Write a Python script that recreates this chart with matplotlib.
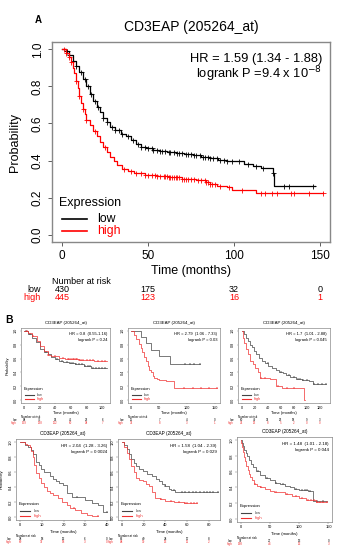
import numpy as np
import matplotlib.pyplot as plt
import matplotlib.transforms as mtransforms
from matplotlib.lines import Line2D

plt.rcParams['font.family'] = ['Liberation Sans', 'DejaVu Sans']

W, H = 340, 550   # figure size in pixels
GENE = 'CD3EAP (205264_at)'

# ---------------- PANEL A (all patients) ----------------
a_low_t = [0, 2, 4, 6, 8, 10, 12, 14, 16, 18, 20, 22, 24, 26, 28, 31, 34, 37, 40, 43, 46, 49,
           53, 57, 61, 66, 71, 76, 81, 86, 91, 96, 101, 106, 111, 116, 122.5, 123.5, 147]
a_low_s = [1.0, 0.99, 0.97, 0.94, 0.91, 0.88, 0.84, 0.80, 0.76, 0.72, 0.69, 0.66, 0.63, 0.61, 0.58,
           0.565, 0.545, 0.53, 0.51, 0.49, 0.475, 0.465, 0.455, 0.45, 0.445, 0.44, 0.435, 0.43, 0.42,
           0.415, 0.405, 0.40, 0.395, 0.38, 0.37, 0.36, 0.335, 0.265, 0.265]
a_low_c = [2, 3, 4, 6, 8, 11, 13, 15, 17, 19, 21, 24, 26, 29, 31, 33, 35, 38, 41, 44, 46, 48, 50,
           52, 53, 55, 57, 58, 60, 62, 63, 65, 67, 68, 70, 72, 73, 75, 77, 78, 80, 82, 83, 85, 86, 88,
           90, 92, 94, 96, 99, 103, 108, 113, 117, 123, 129, 132, 146]
a_high_t = [0, 2, 4, 5, 6, 7, 8, 9, 10, 11, 12, 13, 14, 16, 18, 20, 22, 24, 26, 28, 30, 32, 35,
            38, 42, 48, 55, 62, 70, 78, 84, 86, 90, 96, 99, 113, 152]
a_high_s = [1.0, 0.98, 0.96, 0.93, 0.90, 0.87, 0.83, 0.79, 0.75, 0.71, 0.68, 0.65, 0.62, 0.59, 0.56,
            0.53, 0.50, 0.475, 0.445, 0.42, 0.395, 0.375, 0.355, 0.345, 0.33, 0.32, 0.315, 0.31,
            0.30, 0.295, 0.285, 0.275, 0.265, 0.255, 0.24, 0.222, 0.222]
a_high_c = [1, 2, 4, 5, 8, 10, 12, 14, 19, 25, 36, 40, 43, 46, 48, 50, 52, 54, 55, 57, 59, 60, 61,
            62, 63, 64, 65, 66, 67, 68, 70, 71, 72, 73, 75, 77, 79, 81, 83, 84, 85, 86, 87, 89, 92,
            97, 105, 116, 118, 122, 125, 133, 135, 144, 152]
a_risk_t = [0, 50, 100, 150]
a_risk_low = [430, 175, 32, 0]
a_risk_high = [445, 123, 16, 1]

# ---------------- PANEL B (subgroups) ----------------
b1_low_t = [0, 5, 10, 15, 20, 25, 30, 35, 40, 45, 50, 57, 65, 77, 86, 106]
b1_low_s = [1.0, 0.96, 0.90, 0.84, 0.74, 0.69, 0.66, 0.62, 0.59, 0.56, 0.545, 0.53, 0.515, 0.50, 0.465, 0.465]
b1_low_c = [3, 8, 28, 42, 48, 55, 60, 63, 66, 70, 74, 78, 82, 85, 88, 92, 96, 100, 104]
b1_high_t = [0, 5, 10, 16, 20, 25, 30, 35, 45, 52, 59, 70, 78, 90, 106]
b1_high_s = [1.0, 0.97, 0.92, 0.85, 0.78, 0.71, 0.65, 0.63, 0.61, 0.60, 0.59, 0.58, 0.575, 0.565, 0.565]
b1_high_c = [4, 12, 30, 40, 50, 56, 58, 60, 62, 64, 66, 68, 70, 73, 76, 80, 84, 88, 94, 100, 104]
b1_risk_t = [0, 20, 40, 60, 80, 100]
b1_risk_low = [88, 75, 54, 45, 23, 6]
b1_risk_high = [159, 138, 112, 80, 38, 7]

b2_low_t = [0, 18, 27, 36, 50, 70, 123]
b2_low_s = [1.0, 0.91, 0.82, 0.73, 0.64, 0.52, 0.52]
b2_low_c = [96, 105, 112, 123]
b2_high_t = [0, 5, 9, 13, 17, 20, 23, 26, 29, 32, 35, 38, 41, 46, 50, 62, 76, 153]
b2_high_s = [1.0, 0.94, 0.875, 0.81, 0.75, 0.69, 0.625, 0.56, 0.50, 0.44, 0.40, 0.35, 0.32, 0.30,
             0.285, 0.27, 0.18, 0.18]
b2_high_c = [95, 110, 125, 140, 153]
b2_risk_t = [0, 50, 100, 150]
b2_risk_low = [11, 7, 4, 0]
b2_risk_high = [32, 8, 3, 1]

b3_low_t = [0, 3, 6, 9, 12, 15, 18, 22, 26, 31, 36, 41, 47, 52, 58, 64, 68, 75, 83.5, 93, 104, 109.5, 130]
b3_low_s = [1.0, 0.95, 0.90, 0.85, 0.80, 0.76, 0.71, 0.66, 0.61, 0.565, 0.535, 0.50, 0.47, 0.44,
            0.41, 0.39, 0.37, 0.33, 0.30, 0.285, 0.275, 0.23, 0.23]
b3_low_c = [40, 60, 72, 80, 86, 90, 95, 100, 112, 118, 124, 130]
b3_high_t = [0, 2, 4, 6, 9, 13, 17, 21, 25, 28.7, 44, 52, 62.6, 96.5, 97]
b3_high_s = [1.0, 0.90, 0.82, 0.74, 0.66, 0.565, 0.52, 0.47, 0.40, 0.32, 0.31, 0.20, 0.18, 0.0, 0.0]
b3_high_c = [30, 35, 56, 70, 80]
b3_risk_t = [0, 20, 40, 60, 80, 100, 120]
b3_risk_low = [80, 49, 33, 25, 18, 9, 3]
b3_risk_high = [34, 13, 8, 5, 2, 0, 0]

b4_low_t = [0, 2, 3.6, 5, 5.9, 7.4, 8.5, 9.8, 11, 13.6, 15, 16.7, 18, 19.8, 21.4, 24, 30, 33, 36, 38.4, 40]
b4_low_s = [1.0, 0.96, 0.93, 0.89, 0.84, 0.73, 0.69, 0.645, 0.60, 0.545, 0.51, 0.477, 0.45, 0.43,
            0.32, 0.27, 0.227, 0.19, 0.16, 0.07, 0.07]
b4_low_c = [26, 40]
b4_high_t = [0, 2, 3, 4.3, 5, 5.9, 6.5, 7.4, 8.5, 9.8, 11, 12.5, 13.6, 15, 17.5, 19.5, 21.4, 23,
             25.3, 28, 30.7, 33, 36]
b4_high_s = [1.0, 0.98, 0.96, 0.93, 0.88, 0.80, 0.70, 0.59, 0.52, 0.45, 0.40, 0.35, 0.32, 0.29,
             0.25, 0.20, 0.16, 0.12, 0.09, 0.05, 0.023, 0.012, 0.012]
b4_high_c = [25, 36]
b4_risk_t = [0, 10, 20, 30, 40]
b4_risk_low = [28, 18, 12, 6, 0]
b4_risk_high = [80, 37, 18, 3, 0]

b5_low_t = [0, 2, 4.4, 6.5, 8.8, 11, 13.2, 16, 19, 23, 27.9, 31, 33.7, 36.5, 39.6, 43, 45.5, 49, 52.8, 88]
b5_low_s = [1.0, 0.96, 0.91, 0.84, 0.77, 0.72, 0.68, 0.64, 0.61, 0.58, 0.545, 0.51, 0.477, 0.44,
            0.41, 0.38, 0.36, 0.34, 0.327, 0.327]
b5_low_c = [40, 48, 55, 58, 62, 65, 68, 72, 75, 78, 81, 84, 88]
b5_high_t = [0, 2, 4.4, 6.5, 8.8, 11, 13.2, 16, 19, 22, 25, 28, 30.8, 35, 39.6, 48, 57, 69]
b5_high_s = [1.0, 0.94, 0.86, 0.77, 0.68, 0.60, 0.52, 0.50, 0.477, 0.44, 0.41, 0.33, 0.25, 0.235,
             0.22, 0.205, 0.19, 0.19]
b5_high_c = [36, 45, 52, 58, 60, 63, 66, 69]
b5_risk_t = [0, 20, 40, 60, 80]
b5_risk_low = [62, 40, 24, 17, 8]
b5_risk_high = [84, 39, 13, 11, 2]

b6_low_t = [0, 2, 4, 6, 8.8, 11, 14, 17.6, 21, 26.5, 33, 41, 50, 59, 67, 76.5, 85, 91, 100, 115, 123.5, 147]
b6_low_s = [1.0, 0.96, 0.92, 0.88, 0.84, 0.80, 0.75, 0.70, 0.66, 0.61, 0.56, 0.525, 0.49, 0.46,
            0.44, 0.42, 0.40, 0.38, 0.37, 0.36, 0.23, 0.23]
b6_low_c = [30, 45, 60, 72, 95, 105, 110, 113, 118, 130, 140]
b6_high_t = [0, 1, 2.5, 4, 5.9, 8, 10, 12, 14.7, 17, 20, 23.5, 28, 33, 41, 50, 57, 64.7, 75, 88,
             100, 112, 128, 147]
b6_high_s = [1.0, 0.96, 0.91, 0.85, 0.79, 0.73, 0.67, 0.62, 0.57, 0.53, 0.49, 0.445, 0.42, 0.40,
             0.38, 0.36, 0.345, 0.335, 0.31, 0.29, 0.27, 0.24, 0.21, 0.21]
b6_high_c = [25, 35, 60, 80, 95, 105, 115, 120, 125, 130, 135, 140, 147]
b6_risk_t = [0, 50, 100, 150]
b6_risk_low = [97, 27, 13, 0]
b6_risk_high = [198, 44, 12, 3]


fig = plt.figure(figsize=(W / 100, H / 100), dpi=100)


def ptext(x, y, s, **kw):
    # text placed in figure pixels (origin top-left)
    kw.setdefault('ha', 'center')
    kw.setdefault('va', 'center')
    fig.text(x / W, 1 - y / H, s, **kw)


def pline(x0, x1, y, **kw):
    fig.add_artist(Line2D([x0 / W, x1 / W], [1 - y / H, 1 - y / H], transform=fig.transFigure, **kw))


def surv_at(t, s, c):
    idx = np.searchsorted(np.asarray(t), c, side='right') - 1
    return np.asarray(s)[idx]


def km_panel(box, low, high, xlim, xticks, hr, pval, risk_t, risk_low, risk_high,
             s=1.0, fs=1.0, lw=0.9, ylabel=True, dark='black', red='#ff0000'):
    l, t, r, b = box
    ax = fig.add_axes([l / W, 1 - b / H, (r - l) / W, (b - t) / H])
    for (tt, ss, cc), col in ((low, dark), (high, red)):
        ax.step(tt, ss, where='post', color=col, lw=lw)
        ax.plot(cc, surv_at(tt, ss, cc), '+', color=col, ms=3.6 * s, mew=max(0.6 * s, 0.3))
    ax.set_xlim(xlim)
    ax.set_ylim(-0.04, 1.04)
    ax.set_xticks(xticks)
    ax.set_yticks(np.arange(0, 1.01, 0.2))
    ax.set_yticklabels(['%.1f' % v for v in np.arange(0, 1.01, 0.2)], rotation=90, va='center')
    ax.tick_params(length=2.9 * s, width=0.6 * s, pad=3 * s, labelsize=8.5 * fs, color='#444444')
    for sp in ax.spines.values():
        sp.set_color('#888888')
        sp.set_linewidth(0.8 * s + 0.2)

    ptext((l + r) / 2, t - 15 * s, GENE, fontsize=10 * fs)
    ptext((l + r) / 2, b + 29 * s, 'Time (months)', fontsize=9 * fs)
    if ylabel:
        ptext(l - 37 * s, (t + b) / 2, 'Probability', rotation=90, fontsize=9 * fs)
    ptext(r - 8 * s, t + 17 * s, hr, ha='right', fontsize=9.3 * fs)
    ptext(r - 8 * s, t + 32 * s, pval, ha='right', fontsize=9.3 * fs)

    # legend
    ptext(l + 7 * s, b - 39 * s, 'Expression', ha='left', fontsize=9 * fs)
    for dy, col, lab in ((23, dark, 'low'), (11, red, 'high')):
        pline(l + 10 * s, l + 35 * s, b - dy * s, color=col, lw=lw + 0.3)
        ptext(l + 45 * s, b - dy * s, lab, ha='left', color=col, fontsize=8.8 * fs)

    # number at risk table
    ptext(l, b + 39 * s, 'Number at risk', ha='left', fontsize=6.5 * fs)
    trans = mtransforms.blended_transform_factory(ax.transData, fig.transFigure)
    for dy, col, lab, vals in ((47, 'black', 'low', risk_low), (56, red, 'high', risk_high)):
        yy = 1 - (b + dy * s) / H
        ptext(l - 11 * s, b + dy * s, lab, ha='right', color=col, fontsize=6.5 * fs)
        for x, v in zip(risk_t, vals):
            ax.text(x, yy, str(v), transform=trans, ha='center', va='center',
                    color=col, fontsize=6.5 * fs, clip_on=False)
    return ax


km_panel((52, 42, 330, 242), (a_low_t, a_low_s, a_low_c), (a_high_t, a_high_s, a_high_c),
         (-6, 156), [0, 50, 100, 150], 'HR = 1.59 (1.34 - 1.88)', r'logrank P =9.4 x 10$^{-8}$',
         a_risk_t, a_risk_low, a_risk_high)

small = dict(lw=0.5, dark='#444444', red='#f03030')
row1 = dict(s=0.36, fs=0.32, **small)
row2 = dict(s=0.40, fs=0.34, **small)

km_panel((21, 328, 110, 403), (b1_low_t, b1_low_s, b1_low_c), (b1_high_t, b1_high_s, b1_high_c),
         (-4, 110), [0, 20, 40, 60, 80, 100], 'HR = 0.8  (0.55-1.16)', 'logrank P = 0.24',
         b1_risk_t, b1_risk_low, b1_risk_high, **row1)
km_panel((128, 328, 220, 403), (b2_low_t, b2_low_s, b2_low_c), (b2_high_t, b2_high_s, b2_high_c),
         (-6, 159), [0, 50, 100, 150], 'HR = 2.79  (1.06 - 7.33)', 'logrank P = 0.03',
         b2_risk_t, b2_risk_low, b2_risk_high, ylabel=False, **row1)
km_panel((238, 328, 330, 403), (b3_low_t, b3_low_s, b3_low_c), (b3_high_t, b3_high_s, b3_high_c),
         (-6, 136), [0, 20, 40, 60, 80, 100, 120], 'HR = 1.7  (1.01 - 2.88)', 'logrank P = 0.045',
         b3_risk_t, b3_risk_low, b3_risk_high, ylabel=False, **row1)
km_panel((16, 439, 110, 520), (b4_low_t, b4_low_s, b4_low_c), (b4_high_t, b4_high_s, b4_high_c),
         (-2, 41.5), [0, 10, 20, 30, 40], 'HR = 2.04  (1.28 - 3.26)', 'logrank P = 0.0024',
         b4_risk_t, b4_risk_low, b4_risk_high, **row2)
km_panel((118, 439, 220, 520), (b5_low_t, b5_low_s, b5_low_c), (b5_high_t, b5_high_s, b5_high_c),
         (-3.5, 90), [0, 20, 40, 60, 80], 'HR = 1.58  (1.04 - 2.39)', 'logrank P = 0.029',
         b5_risk_t, b5_risk_low, b5_risk_high, ylabel=False, **row2)
km_panel((237, 437, 332, 522), (b6_low_t, b6_low_s, b6_low_c), (b6_high_t, b6_high_s, b6_high_c),
         (-6, 156), [0, 50, 100, 150], 'HR = 1.48  (1.01 - 2.18)', 'logrank P = 0.044',
         b6_risk_t, b6_risk_low, b6_risk_high, ylabel=False, **row2)

ptext(38, 20, 'A', fontsize=7, fontweight='bold')
ptext(9, 320, 'B', fontsize=7.5, fontweight='bold')

fig.savefig('out.png', dpi=100)
